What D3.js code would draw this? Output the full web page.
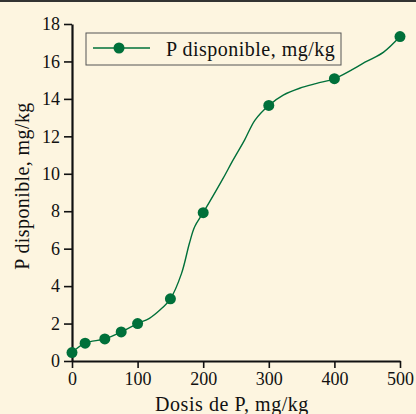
<!DOCTYPE html>
<html>
<head>
<meta charset="utf-8">
<script src="https://cdn.jsdelivr.net/npm/d3@7"></script>
<style>
  html, body { margin: 0; padding: 0; background: #fdf5e0; }
  svg { display: block; }
</style>
</head>
<body>
<div id="chart"></div>
<script>
// measured points (markers)
const dose = [0, 20, 50, 75, 100, 150, 200, 300, 400, 500]
const pAvail = [0.45, 0.95, 1.18, 1.55, 2.0, 3.32, 7.92, 13.65, 15.08, 17.33]

// the fitted curve
const curveDose = [0, 20, 50, 75, 100, 118, 134, 150, 167, 179, 187, 200, 229, 245, 263, 279, 300, 322, 347, 373, 400, 449, 475, 500]
const curveP = [0.45, 0.95, 1.18, 1.55, 2.0, 2.28, 2.72, 3.32, 4.68, 6.29, 7.17, 7.92, 9.67, 10.7, 11.8, 12.87, 13.65, 14.2, 14.57, 14.83, 15.08, 16.0, 16.5, 17.33]

const xTicks = [0, 100, 200, 300, 400, 500]
const yTicks = [0, 2, 4, 6, 8, 10, 12, 14, 16, 18]

const seriesName = 'P disponible, mg/kg'
const xTitle = 'Dosis de P, mg/kg'
const yTitle = 'P disponible, mg/kg'

const width = 416, height = 414
const margin = {top: 24, right: 16, bottom: 53, left: 72}
const green = '#00703a'
const font = '"Liberation Serif", "Times New Roman", serif'

const svg = d3.select('#chart').append('svg')
  .attr('width', width)
  .attr('height', height)

svg.append('rect').attr('width', width).attr('height', height).attr('fill', '#fdf5e0')
svg.append('line')
  .attr('x1', 0).attr('x2', width).attr('y1', 1).attr('y2', 1)
  .attr('stroke', '#333').attr('stroke-width', 2)

const x = d3.scaleLinear().domain([0, 500]).range([margin.left, width - margin.right])
const y = d3.scaleLinear().domain([0, 18]).range([height - margin.bottom, margin.top])

const xAxis = svg.append('g')
  .attr('transform', 'translate(0,' + (height - margin.bottom) + ')')
  .call(d3.axisBottom(x).tickValues(xTicks).tickSize(7).tickPadding(4).tickSizeOuter(0))
const yAxis = svg.append('g')
  .attr('transform', 'translate(' + margin.left + ',0)')
  .call(d3.axisLeft(y).tickValues(yTicks).tickSize(8).tickPadding(4).tickSizeOuter(0))

for (const ax of [xAxis, yAxis]) {
  ax.select('.domain').attr('stroke', '#111').attr('stroke-width', 2.2)
  ax.selectAll('.tick line').attr('stroke', '#111').attr('stroke-width', 1.6)
  ax.selectAll('.tick text').attr('fill', '#111')
    .style('font-family', font).style('font-size', '18px')
}
xAxis.selectAll('.tick text').attr('dy', '0.74em')

const line = d3.line()
  .x(function(d) { return x(d[0]) })
  .y(function(d) { return y(d[1]) })
  .curve(d3.curveCatmullRom.alpha(0.5))

svg.append('path')
  .datum(d3.zip(curveDose, curveP))
  .attr('fill', 'none')
  .attr('stroke', green)
  .attr('stroke-width', 1.4)
  .attr('d', line)

svg.append('g').selectAll('circle')
  .data(d3.zip(dose, pAvail))
  .enter().append('circle')
  .attr('cx', function(d) { return x(d[0]) })
  .attr('cy', function(d) { return y(d[1]) })
  .attr('r', 5.5)
  .attr('fill', green)

// legend
const legend = svg.append('g').attr('transform', 'translate(86,33)')
legend.append('rect')
  .attr('width', 255).attr('height', 32)
  .attr('fill', 'none').attr('stroke', '#555').attr('stroke-width', 1)
legend.append('line')
  .attr('x1', 7).attr('x2', 64).attr('y1', 15).attr('y2', 15)
  .attr('stroke', green).attr('stroke-width', 1.4)
legend.append('circle').attr('cx', 33).attr('cy', 15).attr('r', 5.5).attr('fill', green)
legend.append('text')
  .attr('x', 80).attr('y', 23)
  .attr('fill', '#111')
  .style('font-family', font).style('font-size', '20px').style('letter-spacing', '0.5px')
  .text(seriesName)

svg.append('text')
  .attr('x', (x(0) + x(500)) / 2 - 4).attr('y', 411)
  .attr('text-anchor', 'middle')
  .attr('fill', '#111')
  .style('font-family', font).style('font-size', '20px').style('letter-spacing', '0.55px')
  .text(xTitle)

svg.append('text')
  .attr('transform', 'translate(29,' + 186 + ') rotate(-90)')
  .attr('text-anchor', 'middle')
  .attr('fill', '#111')
  .style('font-family', font).style('font-size', '20px').style('letter-spacing', '0.4px')
  .text(yTitle)
</script>
</body>
</html>
